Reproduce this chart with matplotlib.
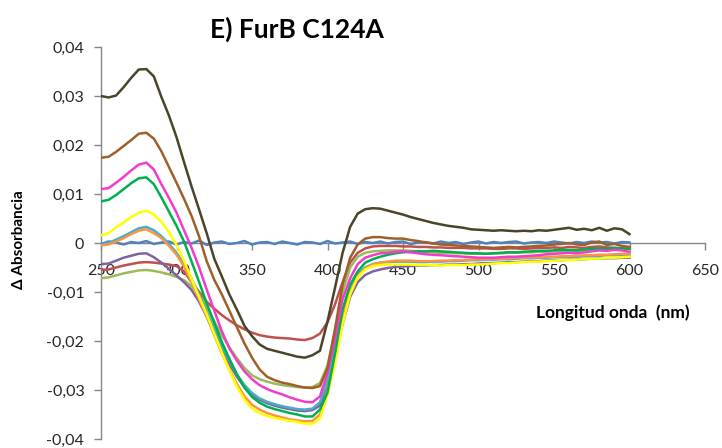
import matplotlib.pyplot as plt
import numpy as np
from matplotlib.ticker import FuncFormatter

# longitud de onda (nm), un punto cada 5 nm
longitud = np.arange(250, 601, 5)

azul = [-0.2, 0.3, 0.1, -0.3, 0.2, 0.0, 0.4, -0.2, 0.1, 0.3, -0.3, 0.2, -0.1, 0.5, -0.4, 0.1, 0.3, -0.2, 0.0, 0.4,
        -0.3, 0.1, 0.2, -0.2, 0.3, 0.0, -0.3, 0.2, 0.1, -0.2, 0.4, -0.1, 0.1, 0.3, -0.2, 0.2, 0.0, 0.3, -0.1, 0.2,
        0.3, -0.2, 0.1, 0.2, -0.1, 0.3, 0.0, 0.2, -0.2, 0.1, 0.3, -0.1, 0.2, 0.0, 0.2, 0.3, -0.1, 0.1, 0.2, 0.0,
        0.3, 0.1, -0.1, 0.2, 0.0, 0.3, 0.1, 0.2, -0.1, 0.2, 0.1]
rojo = [-5.5, -5.4, -5.0, -4.6, -4.3, -4.0, -3.9, -4.0, -4.2, -4.4, -4.7, -5.8, -8.0, -10.0, -12.0, -13.4, -14.7, -15.8, -16.8, -17.6,
        -18.3, -18.8, -19.1, -19.3, -19.4, -19.5, -19.7, -19.8, -19.4, -18.5, -16.2, -12.5, -8.0, -4.0, -2.0, -1.1, -0.7, -0.6, -0.6, -0.6,
        -0.7, -0.7, -0.8, -0.8, -0.9, -0.9, -1.0, -1.0, -1.0, -1.1, -1.1, -1.1, -1.2, -1.2, -1.1, -1.1, -1.2, -1.1, -1.0, -1.0,
        -0.9, -1.0, -0.8, -0.9, -1.0, -0.8, -0.7, -0.9, -1.0, -1.1, -1.2]
verde_claro = [-7.2, -7.0, -6.6, -6.2, -5.9, -5.6, -5.5, -5.7, -6.0, -6.4, -6.9, -7.6, -8.8, -10.5, -13.0, -16.0, -18.8, -21.3, -23.5, -25.5,
               -27.0, -27.8, -28.3, -28.7, -29.0, -29.2, -29.4, -29.5, -29.4, -28.6, -25.0, -18.0, -10.0, -5.0, -2.8, -2.0, -1.7, -1.6, -1.5, -1.5,
               -1.5, -1.6, -1.7, -1.8, -1.9, -2.0, -2.0, -2.1, -2.1, -2.2, -2.2, -2.2, -2.1, -2.1, -2.0, -2.0, -1.9, -1.9, -1.8, -1.8,
               -1.7, -1.7, -1.6, -1.6, -1.5, -1.5, -1.4, -1.4, -1.3, -1.3, -1.2]
morado = [-4.3, -4.2, -3.6, -3.0, -2.6, -2.2, -2.1, -2.9, -4.0, -5.3, -6.6, -8.0, -9.6, -12.0, -15.0, -18.4, -21.7, -24.7, -27.3, -29.4,
          -31.0, -32.0, -32.7, -33.2, -33.6, -33.9, -34.2, -34.3, -34.1, -33.2, -29.5, -23.0, -16.5, -11.0, -8.0, -6.5, -5.8, -5.4, -5.1, -4.9,
          -4.8, -4.7, -4.6, -4.6, -4.5, -4.5, -4.4, -4.4, -4.3, -4.3, -4.2, -4.1, -4.1, -4.0, -3.9, -3.9, -3.8, -3.7, -3.7, -3.6,
          -3.5, -3.5, -3.4, -3.4, -3.3, -3.2, -3.2, -3.1, -3.1, -3.0, -3.0]
celeste = [-0.3, 0.0, 0.7, 1.4, 2.2, 3.0, 3.3, 2.6, 1.4, -0.2, -2.0, -4.3, -7.3, -10.6, -14.0, -17.6, -21.0, -24.0, -26.8, -29.0,
           -30.6, -31.7, -32.4, -32.9, -33.3, -33.6, -33.9, -34.0, -33.8, -32.5, -28.0, -21.0, -14.0, -9.0, -6.3, -5.0, -4.3, -4.0, -3.9, -3.8,
           -3.8, -3.8, -3.9, -3.9, -3.8, -3.8, -3.7, -3.7, -3.6, -3.5, -3.5, -3.4, -3.4, -3.3, -3.3, -3.2, -3.1, -3.1, -3.0, -3.0,
           -2.9, -2.9, -2.8, -2.8, -2.7, -2.6, -2.6, -2.5, -2.5, -2.4, -2.4]
naranja = [-0.5, -0.3, 0.3, 1.0, 1.8, 2.5, 2.8, 2.0, 1.0, -0.6, -2.4, -4.8, -8.0, -11.5, -15.0, -18.8, -22.5, -25.8, -28.8, -31.3,
           -33.0, -34.0, -34.7, -35.2, -35.6, -36.0, -36.2, -36.4, -36.3, -35.0, -30.0, -23.0, -15.5, -10.0, -6.8, -5.2, -4.4, -4.0, -3.8, -3.6,
           -3.6, -3.6, -3.7, -3.7, -3.7, -3.6, -3.6, -3.5, -3.5, -3.4, -3.3, -3.3, -3.2, -3.2, -3.1, -3.0, -3.0, -2.9, -2.9, -2.8,
           -2.8, -2.7, -2.7, -2.6, -2.5, -2.5, -2.4, -2.4, -2.3, -2.2, -2.2]
amarillo = [1.6, 2.0, 3.2, 4.2, 5.3, 6.2, 6.6, 5.8, 4.3, 2.2, -0.4, -3.6, -7.4, -11.0, -14.5, -18.5, -22.3, -26.0, -29.3, -32.0,
            -33.8, -34.7, -35.3, -35.7, -36.0, -36.3, -36.5, -36.9, -36.9, -35.8, -31.0, -24.5, -16.5, -10.5, -7.0, -5.4, -4.7, -4.5, -4.4, -4.4,
            -4.4, -4.4, -4.5, -4.5, -4.5, -4.6, -4.5, -4.5, -4.5, -4.4, -4.4, -4.3, -4.2, -4.1, -4.1, -4.0, -3.9, -3.8, -3.8, -3.7,
            -3.6, -3.5, -3.5, -3.4, -3.3, -3.2, -3.2, -3.0, -3.0, -2.9, -2.8]
verde = [8.5, 8.8, 9.8, 11.0, 12.2, 13.2, 13.4, 12.0, 9.3, 6.4, 3.5, 0.3, -3.8, -8.0, -12.3, -16.3, -20.2, -23.6, -26.8, -29.5,
         -31.4, -32.6, -33.4, -33.9, -34.3, -34.7, -35.0, -35.4, -35.4, -34.0, -30.5, -22.5, -13.5, -8.5, -5.8, -4.0, -3.3, -2.8, -2.4, -2.1,
         -1.9, -1.8, -1.7, -1.7, -1.6, -1.7, -1.8, -1.9, -2.0, -2.1, -2.1, -2.2, -2.1, -2.0, -1.9, -1.9, -1.8, -1.7, -1.6, -1.6,
         -1.5, -1.4, -1.4, -1.5, -1.3, -1.2, -1.1, -1.2, -1.0, -1.1, -1.2]
rosa = [11.0, 11.2, 12.3, 13.5, 14.8, 16.0, 16.4, 15.0, 12.0, 9.2, 6.2, 2.6, -1.0, -5.0, -9.5, -13.8, -18.0, -21.5, -24.0, -26.2,
        -27.8, -29.0, -29.8, -30.4, -30.9, -31.5, -32.0, -32.4, -32.5, -31.3, -26.5, -19.5, -11.5, -7.2, -4.3, -3.0, -2.5, -2.1, -2.0, -1.8,
        -1.7, -1.9, -2.1, -2.3, -2.4, -2.5, -2.6, -2.7, -2.8, -2.9, -3.0, -3.0, -3.0, -2.9, -2.8, -2.8, -2.7, -2.6, -2.5, -2.3,
        -2.2, -2.1, -2.0, -2.1, -1.9, -1.7, -1.5, -1.6, -1.4, -1.5, -1.8]
marron = [17.4, 17.6, 18.6, 19.8, 21.0, 22.3, 22.5, 21.3, 18.7, 15.5, 12.3, 9.0, 5.5, 1.3, -3.7, -7.5, -10.5, -13.8, -17.2, -20.5,
          -23.4, -25.8, -27.3, -28.0, -28.5, -28.8, -29.2, -29.5, -29.6, -29.2, -25.5, -17.5, -8.5, -3.0, -0.3, 0.9, 1.2, 1.2, 1.0, 0.9,
          0.9, 0.6, 0.4, 0.1, -0.1, -0.3, -0.4, -0.5, -0.6, -0.7, -0.8, -0.9, -1.0, -0.9, -0.8, -0.9, -0.8, -0.7, -0.6, -0.5,
          -0.3, -0.2, 0.0, -0.3, -0.4, 0.1, 0.3, -0.4, -0.2, -0.6, -0.8]
oliva = [30.0, 29.7, 30.1, 31.8, 33.7, 35.4, 35.5, 34.0, 29.8, 26.0, 21.6, 16.5, 11.5, 6.8, 2.0, -3.2, -6.8, -10.5, -13.6, -16.9,
         -19.0, -20.7, -21.6, -22.0, -22.4, -22.8, -23.2, -23.4, -22.9, -22.0, -16.0, -9.1, -2.0, 3.3, 6.0, 6.9, 7.1, 7.0, 6.6, 6.2,
         5.8, 5.3, 4.9, 4.5, 4.1, 3.8, 3.5, 3.3, 3.1, 2.8, 2.7, 2.6, 2.5, 2.6, 2.5, 2.4, 2.5, 2.4, 2.6, 2.5,
         2.7, 2.9, 3.1, 2.7, 2.9, 2.6, 3.1, 2.5, 3.0, 2.8, 1.8]

series = [
    (azul, '#4F81BD'),
    (rojo, '#C0504D'),
    (verde_claro, '#9BBB59'),
    (morado, '#8064A2'),
    (celeste, '#4BACC6'),
    (naranja, '#F79646'),
    (amarillo, '#FFFF00'),
    (verde, '#00B050'),
    (rosa, '#F23CCB'),
    (marron, '#9F5F2B'),
    (oliva, '#4A452A'),
]

plt.rcParams['font.family'] = ['Lato', 'DejaVu Sans']

fig = plt.figure(figsize=(7.22, 4.48), dpi=100)
ax = fig.add_axes([101 / 722, 9 / 448, 604 / 722, 392 / 448])

for valores, color in series:
    ax.plot(longitud, np.array(valores) * 1e-3, color=color, linewidth=1.8, zorder=3)

ax.set_xlim(250, 650)
ax.set_ylim(-0.04, 0.04)
ax.set_xticks(np.arange(250, 651, 50))
ax.set_yticks(np.arange(-0.04, 0.0401, 0.01))


def coma(v, pos):
    if abs(v) < 1e-9:
        return '0'
    return f'{v:.2f}'.replace('.', ',')


ax.yaxis.set_major_formatter(FuncFormatter(coma))

ax.spines['top'].set_visible(False)
ax.spines['right'].set_visible(False)
ax.spines['bottom'].set_position(('data', 0))
for s in ('left', 'bottom'):
    ax.spines[s].set_color('#868686')
    ax.spines[s].set_linewidth(1.0)

ax.tick_params(axis='both', colors='#868686', labelcolor='#262626', labelsize=11.5,
               direction='out', length=5, width=1.0)
ax.tick_params(axis='x', pad=10)
ax.tick_params(axis='y', pad=7)

fig.text(297 / 722, 1 - 29 / 448, 'E) FurB C124A', ha='center', va='center',
         fontsize=19, fontweight='bold')
fig.text(613 / 722, 1 - 313 / 448, 'Longitud onda  (nm)', ha='center', va='center',
         fontsize=12.5, fontweight='bold')
fig.text(19 / 722, 1 - 240 / 448, 'Δ Absorbancia', ha='center', va='center',
         rotation=90, fontsize=11, fontweight='bold')

plt.savefig('out.png', dpi=100)
